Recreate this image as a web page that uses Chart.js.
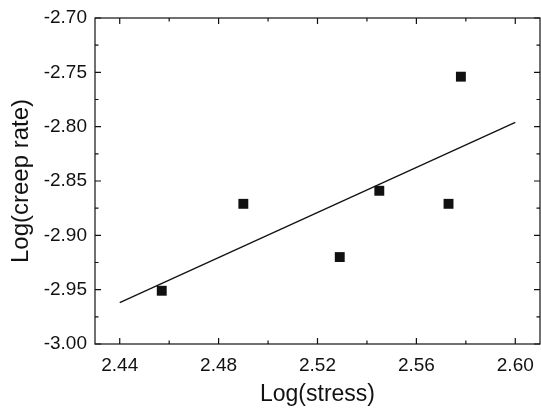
<!DOCTYPE html>
<html>
<head>
<meta charset="utf-8">
<script src="https://cdn.jsdelivr.net/npm/chart.js@4"></script>
<style>
  html, body { margin: 0; padding: 0; background: #fff; }
  #wrap { width: 541px; height: 408px; }
</style>
</head>
<body>
<div id="wrap"><canvas id="chartCreep"></canvas></div>
<script>
// data
const stressLog = [2.457, 2.490, 2.529, 2.545, 2.573, 2.578];
const creepLog = [-2.951, -2.871, -2.920, -2.859, -2.871, -2.754];
const fitX = [2.44, 2.60];
const fitY = [-2.962, -2.796];

const xMajor = [2.44, 2.48, 2.52, 2.56, 2.60];
const xMinor = [2.46, 2.50, 2.54, 2.58];
const yMajor = [-3.00, -2.95, -2.90, -2.85, -2.80, -2.75, -2.70];
const yMinor = [-2.975, -2.925, -2.875, -2.825, -2.775, -2.725];

const fontFamily = 'Arial, "Liberation Sans", sans-serif';
const ink = '#111';

// frame + inward ticks, all sides
const frameTicks = {
    id: 'frameTicks',
    afterDraw(chart) {
        const { ctx, chartArea: a, scales } = chart;
        ctx.save();
        ctx.strokeStyle = ink;
        ctx.lineWidth = 1.2;
        ctx.strokeRect(a.left, a.top, a.right - a.left, a.bottom - a.top);
        ctx.beginPath();
        const xt = (list, len) => list.forEach(v => {
            const px = scales.x.getPixelForValue(v);
            ctx.moveTo(px, a.bottom); ctx.lineTo(px, a.bottom - len);
            ctx.moveTo(px, a.top); ctx.lineTo(px, a.top + len);
        });
        const yt = (list, len) => list.forEach(v => {
            const py = scales.y.getPixelForValue(v);
            ctx.moveTo(a.left, py); ctx.lineTo(a.left + len, py);
            ctx.moveTo(a.right, py); ctx.lineTo(a.right - len, py);
        });
        xt(xMajor, 6); xt(xMinor, 3.5);
        yt(yMajor, 6); yt(yMinor, 3.5);
        ctx.stroke();
        ctx.restore();
    }
};

new Chart(document.getElementById('chartCreep'), {
    type: 'scatter',
    data: {
        datasets: [{
            label: 'data',
            data: stressLog.map((x, i) => ({ x: x, y: creepLog[i] })),
            pointStyle: 'rect',
            pointRadius: 7,
            pointBackgroundColor: ink,
            pointBorderWidth: 0,
            showLine: false
        }, {
            label: 'fit',
            data: fitX.map((x, i) => ({ x: x, y: fitY[i] })),
            showLine: true,
            borderColor: ink,
            borderWidth: 1.3,
            pointRadius: 0
        }]
    },
    options: {
        responsive: true,
        maintainAspectRatio: false,
        animation: false,
        layout: { autoPadding: false, padding: { top: 18, right: 1, left: 0, bottom: 0 } },
        plugins: { legend: { display: false }, tooltip: { enabled: false } },
        scales: {
            x: {
                type: 'linear',
                min: 2.43,
                max: 2.61,
                afterBuildTicks: s => { s.ticks = xMajor.map(v => ({ value: v })); },
                afterFit: s => { s.height = 64; s.paddingLeft = 0; s.paddingRight = 0; },
                grid: { display: false, drawTicks: false },
                border: { display: false },
                ticks: {
                    padding: 10,
                    color: ink,
                    font: { family: fontFamily, size: 19 },
                    callback: v => v.toFixed(2)
                },
                title: {
                    display: true,
                    text: 'Log(stress)',
                    color: ink,
                    font: { family: fontFamily, size: 23 },
                    padding: { top: 4, bottom: 0 }
                }
            },
            y: {
                min: -3.00,
                max: -2.70,
                afterBuildTicks: s => { s.ticks = yMajor.map(v => ({ value: v })); },
                afterFit: s => { s.width = 95; s.paddingTop = 0; s.paddingBottom = 0; },
                grid: { display: false, drawTicks: false },
                border: { display: false },
                ticks: {
                    padding: 8,
                    color: ink,
                    font: { family: fontFamily, size: 19 },
                    callback: v => v.toFixed(2)
                },
                title: {
                    display: true,
                    text: 'Log(creep rate)',
                    color: ink,
                    font: { family: fontFamily, size: 24 },
                    padding: { top: 7, bottom: 2 }
                }
            }
        }
    },
    plugins: [frameTicks]
});
</script>
</body>
</html>
